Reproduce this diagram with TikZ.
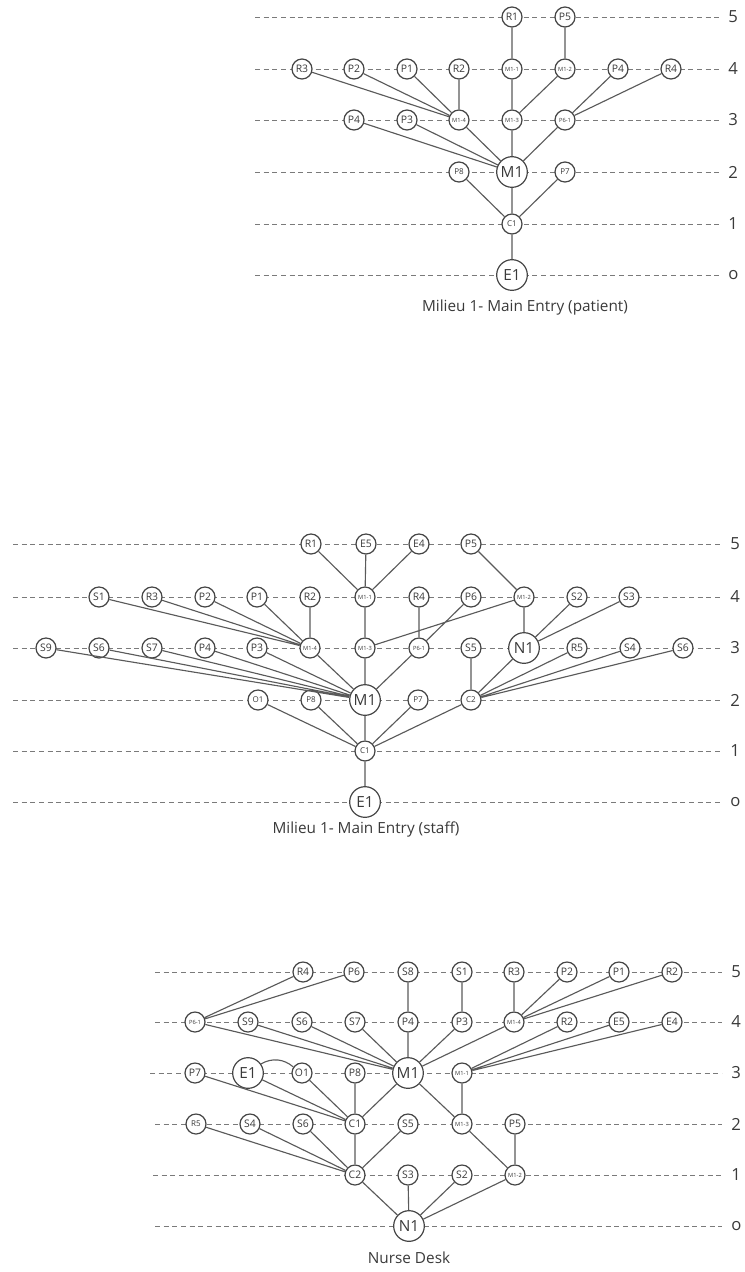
\documentclass[tikz,border=0pt]{standalone}
\usepackage{fontspec}
\setmainfont{Open Sans}
\definecolor{ink}{HTML}{454545}
\definecolor{edge}{HTML}{5A5A5A}
\definecolor{dash}{HTML}{7A7A7A}
\definecolor{txt}{HTML}{3A3A3A}
\begin{document}
\begin{tikzpicture}[x=0.75pt,y=-0.75pt,
  nd/.style={circle,draw=ink,fill=white,line width=0.9pt,inner sep=0pt,text=txt},
  sm/.style={nd,minimum size=15pt,font=\fontsize{7.8}{7.8}\selectfont},
  xs/.style={nd,minimum size=15pt,font=\fontsize{6}{6}\selectfont},
  tn/.style={nd,minimum size=15pt,font=\fontsize{4.3}{4.3}\selectfont},
  lg/.style={nd,minimum size=23pt,font=\fontsize{11.5}{11.5}\selectfont},
  ln/.style={draw=edge,line width=0.85pt},
  grid/.style={draw=dash,line width=0.75pt,dash pattern=on 3.8pt off 2.7pt},
  lvl/.style={anchor=west,font=\fontsize{12.5}{12.5}\selectfont,text=txt,inner sep=0pt},
  ttl/.style={font=\fontsize{11.5}{11.5}\selectfont,text=txt}
]
\useasboundingbox (0,0) rectangle (745,1272);

% ---------------- Milieu 1 - Main Entry (patient) ----------------
\foreach \y/\l/\n in {17/5/5,69/4/4,120/3/3,172/2/2,224/1/1,275/o/0}{
  \draw[grid] (255,\y) -- (720,\y);
  \node[lvl] (a-lvl\n) at (728,\y) {\l};
}
\node[sm] (a-R1) at (512,17) {R1};
\node[sm] (a-P5) at (565,17) {P5};
\node[sm] (a-R3) at (302,69) {R3};
\node[sm] (a-P2) at (354,69) {P2};
\node[sm] (a-P1) at (407,69) {P1};
\node[sm] (a-R2) at (459,69) {R2};
\node[tn] (a-M11) at (512,69) {M1-1};
\node[tn] (a-M12) at (565,69) {M1-2};
\node[sm] (a-P4u) at (618,69) {P4};
\node[sm] (a-R4) at (671,69) {R4};
\node[sm] (a-P4) at (354,120) {P4};
\node[sm] (a-P3) at (407,120) {P3};
\node[tn] (a-M14) at (459,120) {M1-4};
\node[tn] (a-M13) at (512,120) {M1-3};
\node[tn] (a-P61) at (565,120) {P6-1};
\node[xs] (a-P8) at (459,172) {P8};
\node[lg] (a-M1) at (512,172) {M1};
\node[xs] (a-P7) at (565,172) {P7};
\node[xs] (a-C1) at (512,224) {C1};
\node[lg] (a-E1) at (512,275) {E1};
\node[ttl] (a-title) at (525,308) {Milieu 1- Main Entry (patient)};

\draw[ln] (a-R1)--(a-M11) (a-P5)--(a-M12) (a-M11)--(a-M13) (a-M12)--(a-M13)
  (a-R3)--(a-M14) (a-P2)--(a-M14) (a-P1)--(a-M14) (a-R2)--(a-M14)
  (a-P4u)--(a-P61) (a-R4)--(a-P61)
  (a-P4)--(a-M1) (a-P3)--(a-M1) (a-M14)--(a-M1) (a-M13)--(a-M1) (a-P61)--(a-M1)
  (a-P8)--(a-C1) (a-M1)--(a-C1) (a-P7)--(a-C1) (a-C1)--(a-E1);

% ---------------- Milieu 1 - Main Entry (staff) ----------------
\foreach \y/\l/\n in {544/5/5,597/4/4,648/3/3,700/2/2,751/1/1,802/o/0}{
  \draw[grid] (13,\y) -- (720,\y);
  \node[lvl] (b-lvl\n) at (730,\y) {\l};
}
\node[sm] (b-R1) at (311,544) {R1};
\node[sm] (b-E5) at (366,544) {E5};
\node[sm] (b-E4) at (419,544) {E4};
\node[sm] (b-P5) at (471,544) {P5};
\node[sm] (b-S1) at (99,597) {S1};
\node[sm] (b-R3) at (152,597) {R3};
\node[sm] (b-P2) at (205,597) {P2};
\node[sm] (b-P1) at (257,597) {P1};
\node[sm] (b-R2) at (310,597) {R2};
\node[tn] (b-M11) at (365,597) {M1-1};
\node[sm] (b-R4) at (419,597) {R4};
\node[sm] (b-P6) at (471,597) {P6};
\node[tn] (b-M12) at (524,597) {M1-2};
\node[sm] (b-S2) at (577,597) {S2};
\node[sm] (b-S3) at (629,597) {S3};
\node[sm] (b-S9) at (46,648) {S9};
\node[sm] (b-S6) at (99,648) {S6};
\node[sm] (b-S7) at (152,648) {S7};
\node[sm] (b-P4) at (205,648) {P4};
\node[sm] (b-P3) at (257,648) {P3};
\node[tn] (b-M14) at (310,648) {M1-4};
\node[tn] (b-M13) at (365,648) {M1-3};
\node[tn] (b-P61) at (419,648) {P6-1};
\node[sm] (b-S5) at (471,648) {S5};
\node[lg] (b-N1) at (524,648) {N1};
\node[sm] (b-R5) at (577,648) {R5};
\node[sm] (b-S4) at (630,648) {S4};
\node[sm] (b-S6r) at (683,648) {S6};
\node[xs] (b-O1) at (258,700) {O1};
\node[xs] (b-P8) at (311,700) {P8};
\node[lg] (b-M1) at (365,700) {M1};
\node[xs] (b-P7) at (418,700) {P7};
\node[xs] (b-C2) at (471,700) {C2};
\node[xs] (b-C1) at (365,751) {C1};
\node[lg] (b-E1) at (365,802) {E1};
\node[ttl] (b-title) at (366,829) {Milieu 1- Main Entry (staff)};

\draw[ln] (b-R1)--(b-M11) (b-E5)--(b-M11) (b-E4)--(b-M11) (b-P5)--(b-M12)
  (b-S1)--(b-M14) (b-R3)--(b-M14) (b-P2)--(b-M14) (b-P1)--(b-M14) (b-R2)--(b-M14)
  (b-M11)--(b-M13) (b-M12)--(b-M13) (b-R4)--(b-P61) (b-P6)--(b-P61)
  (b-M12)--(b-N1) (b-S2)--(b-N1) (b-S3)--(b-N1)
  (b-S9)--(b-M1) (b-S6)--(b-M1) (b-S7)--(b-M1) (b-P4)--(b-M1) (b-P3)--(b-M1)
  (b-M14)--(b-M1) (b-M13)--(b-M1) (b-P61)--(b-M1)
  (b-S5)--(b-C2) (b-N1)--(b-C2) (b-R5)--(b-C2) (b-S4)--(b-C2) (b-S6r)--(b-C2)
  (b-O1)--(b-C1) (b-P8)--(b-C1) (b-M1)--(b-C1) (b-P7)--(b-C1) (b-C2)--(b-C1)
  (b-C1)--(b-E1);

% ---------------- Nurse Desk ----------------
\foreach \y/\l/\n/\s in {972/5/5/155,1022/4/4/155,1073/3/3/150,1124/2/2/155,1175/1/1/153,1226/o/0/155}{
  \draw[grid] (\s,\y) -- (722,\y);
  \node[lvl] (c-lvl\n) at (731,\y) {\l};
}
\node[sm] (c-R4) at (303,972) {R4};
\node[sm] (c-P6) at (354,972) {P6};
\node[sm] (c-S8) at (408,972) {S8};
\node[sm] (c-S1) at (462,972) {S1};
\node[sm] (c-R3) at (514,972) {R3};
\node[sm] (c-P2) at (567,972) {P2};
\node[sm] (c-P1) at (619,972) {P1};
\node[sm] (c-R2u) at (672,972) {R2};
\node[tn] (c-P61) at (195,1022) {P6-1};
\node[sm] (c-S9) at (248,1022) {S9};
\node[sm] (c-S6) at (302,1022) {S6};
\node[sm] (c-S7) at (355,1022) {S7};
\node[sm] (c-P4) at (408,1022) {P4};
\node[sm] (c-P3) at (462,1022) {P3};
\node[tn] (c-M14) at (514,1022) {M1-4};
\node[sm] (c-R2) at (567,1022) {R2};
\node[sm] (c-E5) at (619,1022) {E5};
\node[sm] (c-E4) at (672,1022) {E4};
\node[sm] (c-P7) at (195,1073) {P7};
\node[lg] (c-E1) at (248,1073) {E1};
\node[sm] (c-O1) at (302,1073) {O1};
\node[sm] (c-P8) at (355,1073) {P8};
\node[lg] (c-M1) at (408,1073) {M1};
\node[tn] (c-M11) at (462,1073) {M1-1};
\node[xs] (c-R5) at (196,1124) {R5};
\node[sm] (c-S4) at (250,1124) {S4};
\node[sm] (c-S6b) at (303,1124) {S6};
\node[sm] (c-C1) at (355,1124) {C1};
\node[sm] (c-S5) at (408,1124) {S5};
\node[tn] (c-M13) at (462,1124) {M1-3};
\node[sm] (c-P5) at (515,1124) {P5};
\node[sm] (c-C2) at (355,1175) {C2};
\node[sm] (c-S3) at (408,1175) {S3};
\node[sm] (c-S2) at (462,1175) {S2};
\node[tn] (c-M12) at (515,1175) {M1-2};
\node[lg] (c-N1) at (409,1226) {N1};
\node[ttl] (c-title) at (409,1258) {Nurse Desk};

\draw[ln] (c-R4)--(c-P61) (c-P6)--(c-P61) (c-S8)--(c-P4) (c-S1)--(c-P3)
  (c-R3)--(c-M14) (c-P2)--(c-M14) (c-P1)--(c-M14) (c-R2u)--(c-M14)
  (c-P61)--(c-M1) (c-S9)--(c-M1) (c-S6)--(c-M1) (c-S7)--(c-M1) (c-P4)--(c-M1)
  (c-P3)--(c-M1) (c-M14)--(c-M1)
  (c-R2)--(c-M11) (c-E5)--(c-M11) (c-E4)--(c-M11)
  (c-P7)--(c-C1) (c-E1)--(c-C1) (c-O1)--(c-C1) (c-P8)--(c-C1) (c-M1)--(c-C1)
  (c-M1)--(c-M13) (c-M11)--(c-M13)
  (c-R5)--(c-C2) (c-S4)--(c-C2) (c-S6b)--(c-C2) (c-C1)--(c-C2) (c-S5)--(c-C2)
  (c-M13)--(c-M12) (c-P5)--(c-M12)
  (c-C2)--(c-N1) (c-S3)--(c-N1) (c-S2)--(c-N1) (c-M12)--(c-N1);
\draw[ln] (c-E1.35) to[bend left=35] (c-O1.145);
\end{tikzpicture}
\end{document}
